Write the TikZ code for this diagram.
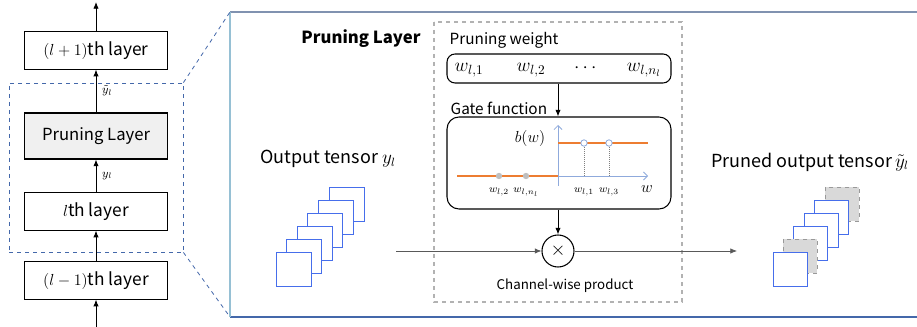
\documentclass[tikz,border=0pt]{standalone}
\usepackage{amsmath}
\usepackage{fontspec}
\setmainfont{Noto Sans CJK KR}
\usetikzlibrary{arrows.meta}

\definecolor{zoomblue}{RGB}{68,104,170}
\definecolor{frameleft}{RGB}{150,192,212}
\definecolor{frametop}{RGB}{128,146,176}
\definecolor{axisblue}{RGB}{143,170,220}
\definecolor{gateorange}{RGB}{237,125,49}
\definecolor{tensorblue}{RGB}{70,110,235}

\tikzset{
	arr/.style={-{Latex[length=5pt,width=4pt]}, line width=0.6pt},
	layer/.style={draw, line width=0.8pt, minimum width=107pt, minimum height=28pt, inner sep=0pt, font=\fontsize{13}{15}\selectfont},
	roundbox/.style={draw, line width=0.8pt, rounded corners=9pt, minimum width=168pt, inner sep=0pt},
	tensor/.style={draw=tensorblue, fill=white, line width=0.7pt},
	pruned/.style={draw=gray!80, fill=gray!30, dashed, line width=0.7pt},
}

\begin{document}
\begin{tikzpicture}[x=0.75pt, y=-0.75pt]
	\useasboundingbox (0,0) rectangle (917,327);
	% left column
	\node[layer] (up) at (96,50.5) {$(l+1)$th layer};
	\node[layer, fill=gray!12, minimum height=34.5pt, font=\fontsize{12.5}{14}\selectfont] (prune) at (96,136) {Pruning Layer};
	\node[layer] (cur) at (96,211.5) {$l$th layer};
	\node[layer] (down) at (96,280.5) {$(l-1)$th layer};
	\coordinate (top) at (96,2);
	\coordinate (bot) at (96,327);
	\draw[arr] (up) -- (top);
	\draw[arr] (prune) -- (up) node[pos=0.5, right=1pt, font=\small] {$\tilde{y}_l$};
	\draw[arr] (cur) -- (prune) node[pos=0.5, right=1pt, font=\small] {$y_l$};
	\draw[arr] (down) -- (cur);
	\draw[arr] (bot) -- (down);
	\node[draw=zoomblue, dashed, line width=0.6pt, minimum width=130.5pt, minimum height=126.75pt, inner sep=0pt] (grp) at (96,167.5) {};
	% zoomed frame
	\coordinate (ftl) at (230,12);
	\coordinate (fbl) at (230,317);
	\draw[frametop, line width=1pt] (ftl) -- (920,12);
	\draw[zoomblue, line width=1pt] (fbl) -- (920,317);
	\draw[frameleft, line width=1.6pt] (ftl) -- (fbl);
	\draw[zoomblue, dashed, line width=0.6pt] (grp.north east) -- (ftl);
	\draw[zoomblue, dashed, line width=0.6pt] (grp.south east) -- (fbl);
	\node[font=\fontsize{12.5}{14}\selectfont\bfseries] (title) at (361,39) {Pruning Layer};
	\draw[gray!60, dashed, line width=0.8pt] (434,22) rectangle (682,302);
	% pruning weight
	\node[anchor=west, font=\fontsize{11.5}{13}\selectfont] (wlabel) at (445,40) {Pruning weight};
	\node[roundbox, rounded corners=6pt, minimum height=21.75pt] (wbox) at (559,68.5) {};
	\node[font=\fontsize{14}{16}\selectfont] (w1) at (469,70) {$w_{l,1}$};
	\node[font=\fontsize{14}{16}\selectfont] (w2) at (531,70) {$w_{l,2}$};
	\node[font=\fontsize{14}{16}\selectfont] (wd) at (587,68) {$\cdots$};
	\node[font=\fontsize{14}{16}\selectfont] (wn) at (644,70) {$w_{l,n_l}$};
	% gate function
	\node[anchor=west, font=\fontsize{11.5}{13}\selectfont] (glabel) at (446,108) {Gate function};
	\node[roundbox, minimum height=69pt] (gbox) at (559,163) {};
	\draw[arr] (wbox.south -| 558,0) -- (gbox.north -| 558,0);
	\draw[axisblue, line width=0.6pt, -{Straight Barb[length=3pt,width=6pt]}] (558,186) -- (558,125);
	\draw[axisblue, line width=0.6pt, -{Straight Barb[length=3pt,width=6pt]}] (558,176) -- (648,176);
	\draw[gateorange, line width=1.6pt] (457,176) -- (558,176);
	\draw[gateorange, line width=1.6pt] (558,143) -- (648,143);
	\draw[gray, densely dotted, line width=0.5pt] (584,143) -- (584,176) (609,143) -- (609,176);
	\foreach \x in {499,526}
		\fill[gray!50] (\x,176) circle (3.2);
	\foreach \x in {584,609}
		\draw[axisblue, fill=white, line width=0.6pt] (\x,143) circle (3.2);
	\node[font=\fontsize{11.5}{13}\selectfont] (bw) at (530,139) {$b(w)$};
	\node[font=\footnotesize] (t2) at (499,192) {$w_{l,2}$};
	\node[font=\footnotesize] (tn) at (526,192) {$w_{l,n_l}$};
	\node[font=\footnotesize] (t1) at (584,192) {$w_{l,1}$};
	\node[font=\footnotesize] (t3) at (609,192) {$w_{l,3}$};
	\node[font=\fontsize{12}{14}\selectfont] (wax) at (647,189) {$w$};
	% product
	\node[draw, circle, line width=0.8pt, minimum size=24pt, inner sep=0pt, font=\Large] (prod) at (558,251) {$\times$};
	\draw[arr] (gbox.south -| prod) -- (prod);
	\coordinate (in) at (396,251);
	\coordinate (out) at (737,251);
	\draw[arr, gray!70!black, line width=0.5pt] (in) -- (prod);
	\draw[arr, gray!70!black, line width=0.5pt] (prod) -- (out);
	\node[font=\fontsize{10}{12}\selectfont] (cw) at (565,286) {Channel-wise product};
	% tensors
	\node[font=\fontsize{13.5}{15}\selectfont] (yin) at (328,159) {Output tensor $y_l$};
	\foreach \i in {5,4,...,0}
		\draw[tensor] ({276+10.6*\i},{252-13*\i}) rectangle +(35,34);
	\node[font=\fontsize{13.5}{15}\selectfont] (yout) at (810,162) {Pruned output tensor\,$\tilde{y}_l$};
	\foreach \i/\s in {5/pruned,4/tensor,3/tensor,2/tensor,1/pruned,0/tensor}
		\draw[\s] ({773+10.4*\i},{252-13*\i}) rectangle +(34,34);
\end{tikzpicture}
\end{document}
